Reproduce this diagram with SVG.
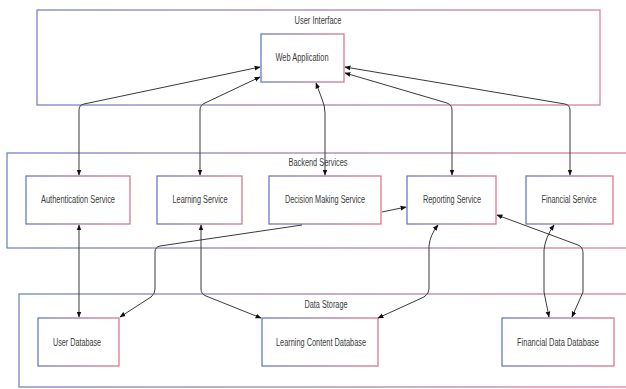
<svg xmlns="http://www.w3.org/2000/svg" width="626" height="389" viewBox="0 0 626 389">
<defs>
<linearGradient id="g" x1="0" y1="0" x2="1" y2="0">
<stop offset="0" stop-color="#6a7ac0"/>
<stop offset="1" stop-color="#d7798e"/>
</linearGradient>
<marker id="a" viewBox="0 0 10 10" refX="9" refY="5" markerWidth="6" markerHeight="6" orient="auto-start-reverse" markerUnits="userSpaceOnUse">
<path d="M0,1 L10,5 L0,9 z" fill="#111"/>
</marker>
<style>
.c{fill:#fff;stroke:url(#g);stroke-width:1.2}
.b{fill:#fff;stroke:url(#g);stroke-width:1.3}
.t{font-family:"Liberation Sans",Arial,sans-serif;font-size:10px;fill:#3a3a3a;text-anchor:middle}
.l{fill:none;stroke:#3a3a3a;stroke-width:1}
.bi{marker-start:url(#a);marker-end:url(#a)}
.un{marker-end:url(#a)}
</style>
</defs>
<g id="ui"><rect class="c" x="37" y="10" width="563" height="95"/><text class="t" x="318" y="24" textLength="47" lengthAdjust="spacingAndGlyphs">User Interface</text></g>
<g id="backend"><rect class="c" x="7" y="153" width="625" height="95"/><text class="t" x="318" y="166" textLength="59" lengthAdjust="spacingAndGlyphs">Backend Services</text></g>
<g id="storage"><rect class="c" x="19" y="294" width="613" height="93"/><text class="t" x="326" y="308" textLength="43" lengthAdjust="spacingAndGlyphs">Data Storage</text></g>
<g id="webapp"><rect class="b" x="261" y="34" width="83" height="48"/><text class="t" x="302" y="61" textLength="53" lengthAdjust="spacingAndGlyphs">Web Application</text></g>
<g id="auth"><rect class="b" x="26" y="176" width="104" height="48"/><text class="t" x="78" y="203" textLength="74" lengthAdjust="spacingAndGlyphs">Authentication Service</text></g>
<g id="learning"><rect class="b" x="157" y="176" width="85" height="48"/><text class="t" x="200" y="203" textLength="55" lengthAdjust="spacingAndGlyphs">Learning Service</text></g>
<g id="decision"><rect class="b" x="269" y="176" width="112" height="48"/><text class="t" x="325" y="203" textLength="80" lengthAdjust="spacingAndGlyphs">Decision Making Service</text></g>
<g id="reporting"><rect class="b" x="407" y="176" width="89" height="48"/><text class="t" x="452" y="203" textLength="58" lengthAdjust="spacingAndGlyphs">Reporting Service</text></g>
<g id="financial"><rect class="b" x="526" y="176" width="87" height="48"/><text class="t" x="569" y="203" textLength="55" lengthAdjust="spacingAndGlyphs">Financial Service</text></g>
<g id="userdb"><rect class="b" x="38" y="318" width="81" height="48"/><text class="t" x="77" y="346" textLength="48" lengthAdjust="spacingAndGlyphs">User Database</text></g>
<g id="lcdb"><rect class="b" x="262" y="318" width="116" height="48"/><text class="t" x="321" y="346" textLength="90" lengthAdjust="spacingAndGlyphs">Learning Content Database</text></g>
<g id="fdb"><rect class="b" x="502" y="318" width="112" height="48"/><text class="t" x="558" y="346" textLength="82" lengthAdjust="spacingAndGlyphs">Financial Data Database</text></g>
<g id="connectors">
<path class="l bi" d="M79,175 V110 Q79,105 84,104 L260,67"/>
<path class="l bi" d="M200,175 V110 Q200,105 205,103 L260,77"/>
<path class="l bi" d="M325,175 V113 Q325,106 322,99 L316,83"/>
<path class="l bi" d="M452,175 V110 Q452,105 447,103 L345,73"/>
<path class="l bi" d="M570,175 V110 Q570,105 565,104 L345,67"/>
<path class="l bi" d="M79,225 V317"/>
<path class="l un" d="M302,225 L160,246 Q155,247 155,252 V289 Q155,294 151,297 L120,317"/>
<path class="l bi" d="M201,225 V289 Q201,294 206,296 L261,318"/>
<path class="l bi" d="M438,225 Q430,235 429,246 V289 Q429,294 424,297 L378,318"/>
<path class="l bi" d="M554,225 Q545,238 544,250 V292 L549,317"/>
<path class="l bi" d="M497,215 L578,245 Q583,247 583,253 V292 L572,317"/>
<path class="l un" d="M382,212 L406,207"/>
</g>
</svg>
